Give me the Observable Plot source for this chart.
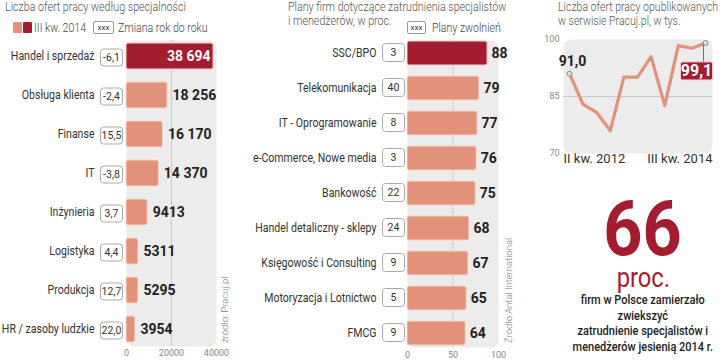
<!DOCTYPE html>
<html>
<head>
<meta charset="utf-8">
<script src="https://cdn.jsdelivr.net/npm/d3@7"></script>
<script src="https://cdn.jsdelivr.net/npm/@observablehq/plot@0.6"></script>
<style>
  body { margin: 0; background: #fff; }
  #root { position: relative; width: 720px; height: 362px; overflow: hidden; background: #fff; font-family: Roboto, "Noto Sans", sans-serif; }
  .abs { position: absolute; white-space: nowrap; }
  .nar { display: inline-block; transform-origin: 0 0; }
  .title { font-size: 12px; font-weight: 300; color: #555; line-height: 13.5px; }
  .leg { font-size: 12px; font-weight: 300; color: #444; line-height: 12px; }
  .xbox { border: 1px solid #999; border-radius: 2px; font-size: 8px; color: #333; text-align: center; line-height: 11px; background: #fff; }
  .src { font-size: 9.5px; font-weight: 300; color: #777; transform: rotate(-90deg); transform-origin: 0 0; line-height: 1; }
  .plot { position: absolute; top: 0; }
</style>
</head>
<body>
<div id="root"></div>
<script>
// ---------- data ----------
const categories1 = ["Handel i sprzedaż","Obsługa klienta","Finanse","IT","Inżynieria","Logistyka","Produkcja","HR / zasoby ludzkie"];
const offers2014 = [38694,18256,16170,14370,9413,5311,5295,3954];
const yoyChange = [-6.1,-2.4,15.5,-3.8,3.7,4.4,12.7,22.0];
const xTicks1 = [0,20000,40000];

const categories2 = ["SSC/BPO","Telekomunikacja","IT - Oprogramowanie","e-Commerce, Nowe media","Bankowość","Handel detaliczny - sklepy","Księgowość i Consulting","Motoryzacja i Lotnictwo","FMCG"];
const hiringPlans = [88,79,77,76,75,68,67,65,64];
const layoffPlans = [3,40,8,3,22,24,9,5,9];
const xTicks2 = [0,50,100];

const offersSeries = [91.0,82.9,80.8,76.0,90.1,90.1,95.5,82.6,98.4,97.7,99.1];
const quarterTicks = ["II kw. 2012","III kw. 2014"];
const yTicks3 = [70,85,100];

const DARK = "#a41c30", SALMON = "#e2927b", BG = "#ececec", GRID = "#c9c9c9";

// ---------- helpers ----------
const fmtPl = v => v >= 10000 ? d3.format(",")(v).replace(/,/g, " ") : String(v);
const fmtDec = v => d3.format(".1f")(v).replace(".", ",").replace("−", "-");
function roundBox(w, h, r) {
  return {
    draw(ctx) {
      const x0 = -w / 2, y0 = -h / 2;
      ctx.moveTo(x0 + r, y0);
      ctx.lineTo(x0 + w - r, y0);
      ctx.arcTo(x0 + w, y0, x0 + w, y0 + r, r);
      ctx.lineTo(x0 + w, y0 + h - r);
      ctx.arcTo(x0 + w, y0 + h, x0 + w - r, y0 + h, r);
      ctx.lineTo(x0 + r, y0 + h);
      ctx.arcTo(x0, y0 + h, x0, y0 + h - r, r);
      ctx.lineTo(x0, y0 + r);
      ctx.arcTo(x0, y0, x0 + r, y0, r);
      ctx.closePath();
    }
  };
}
// horizontally condense the glyphs of a text mark (style only)
function narrow(svg, label, s) {
  svg.querySelectorAll(`g[aria-label="${label}"] text`).forEach(t => {
    const tr = t.getAttribute("transform") || "";
    t.setAttribute("transform", tr + ` scale(${s},1)`);
  });
}

const root = document.getElementById("root");
function place(el, left) { el.classList.add("plot"); el.style.left = left + "px"; root.appendChild(el); }
function html(str) { root.insertAdjacentHTML("beforeend", str); }
const NUM = {fontWeight: "bold", fontSize: 14, fill: "#222", fontFamily: "Roboto, sans-serif"};

// ---------- panel 1 ----------
const data1 = categories1.map((c, i) => ({cat: c, v: offers2014[i], ch: yoyChange[i], first: i === 0}));
const p1 = Plot.plot({
  width: 240, height: 362,
  marginLeft: 126, marginRight: 24, marginTop: 40, marginBottom: 16,
  style: {fontFamily: "Roboto, sans-serif", fontSize: "12px", color: "#333", background: "transparent", overflow: "visible"},
  x: {domain: [0, 40000]},
  y: {domain: categories1, paddingInner: 0.33, paddingOuter: 0.08},
  marks: [
    Plot.frame({fill: BG, rx: 8}),
    Plot.ruleX([20000], {stroke: GRID}),
    Plot.barX(data1, {x: "v", y: "cat", fill: d => d.first ? DARK : SALMON, stroke: "#f6d3c8", strokeWidth: 1, rx: 2}),
    Plot.text(data1.filter(d => !d.first), {x: "v", y: "cat", text: d => fmtPl(d.v), dx: 5, textAnchor: "start", ...NUM, ariaLabel: "values"}),
    Plot.text(data1.filter(d => d.first), {x: "v", y: "cat", text: d => fmtPl(d.v), dx: -3, textAnchor: "end", ...NUM, fill: "#fff", ariaLabel: "values"}),
    Plot.dot(data1, {x: 0, y: "cat", dx: -15, dy: 1, symbol: roundBox(22, 17, 3), fill: "#fff", stroke: "#aaa", strokeWidth: 1}),
    Plot.text(data1, {x: 0, y: "cat", dx: -15, dy: 1, text: d => fmtDec(d.ch), fontSize: 10.5, fill: "#333", ariaLabel: "boxes"}),
    Plot.axisY({tickSize: 0, tickPadding: 32, label: null, fontSize: 12}),
    Plot.axisX({ticks: xTicks1, tickSize: 0, tickPadding: 3, tickFormat: d => String(d), label: null, fontSize: 9, color: "#888"})
  ]
});
narrow(p1, "values", 0.8);
narrow(p1, "boxes", 0.88);
narrow(p1, "y-axis tick label", 0.88);
place(p1, 0);

// ---------- panel 2 ----------
const data2 = categories2.map((c, i) => ({cat: c, v: hiringPlans[i], lay: layoffPlans[i], first: i === 0}));
const p2 = Plot.plot({
  width: 280, height: 362,
  marginLeft: 167, marginRight: 22, marginTop: 40, marginBottom: 15,
  style: {fontFamily: "Roboto, sans-serif", fontSize: "12px", color: "#333", background: "transparent", overflow: "visible"},
  x: {domain: [0, 100]},
  y: {domain: categories2, paddingInner: 0.31, paddingOuter: 0.04},
  marks: [
    Plot.frame({fill: BG, rx: 8}),
    Plot.ruleX([50], {stroke: GRID}),
    Plot.barX(data2, {x: "v", y: "cat", fill: d => d.first ? DARK : SALMON, stroke: "#f6d3c8", strokeWidth: 1, rx: 2}),
    Plot.text(data2, {x: "v", y: "cat", text: d => String(d.v), dx: 4, textAnchor: "start", ...NUM, ariaLabel: "values"}),
    Plot.dot(data2, {x: 0, y: "cat", dx: -14, dy: -1, symbol: roundBox(22, 18, 3), fill: "#fff", stroke: "#aaa", strokeWidth: 1}),
    Plot.text(data2, {x: 0, y: "cat", dx: -14, dy: -1, text: d => String(d.lay), fontSize: 10.5, fill: "#333", ariaLabel: "boxes"}),
    Plot.axisY({tickSize: 0, tickPadding: 31, label: null, fontSize: 12}),
    Plot.axisX({ticks: xTicks2, tickSize: 0, tickPadding: 4, tickFormat: d => String(d), label: null, fontSize: 9, color: "#888"})
  ]
});
narrow(p2, "values", 0.8);
narrow(p2, "boxes", 0.88);
narrow(p2, "y-axis tick label", 0.88);
place(p2, 240);

// ---------- panel 3 ----------
const series = offersSeries.map((v, i) => ({i, v}));
const last = series[series.length - 1], firstPt = series[0];
const p3 = Plot.plot({
  width: 210, height: 175,
  marginLeft: 53, marginRight: 8, marginTop: 39, marginBottom: 22,
  style: {fontFamily: "Roboto, sans-serif", fontSize: "12px", color: "#333", background: "transparent", overflow: "visible"},
  x: {domain: [0, series.length - 1], insetLeft: 6, insetRight: 7, axis: null},
  y: {domain: [70, 100]},
  marks: [
    Plot.frame({fill: BG, rx: 8}),
    Plot.ruleY([85], {stroke: GRID}),
    Plot.line(series, {x: "i", y: "v", stroke: SALMON, strokeWidth: 3.2}),
    Plot.ruleX([last], {x: "i", y1: "v", y2: d => d.v - 5.3, dx: -2, stroke: "#555", strokeWidth: 0.8}),
    Plot.dot([firstPt, last], {x: "i", y: "v", r: 2.5, fill: "#ddd", stroke: "#777", strokeWidth: 0.8}),
    Plot.text([firstPt], {x: "i", y: "v", text: d => fmtDec(d.v), dx: 3, dy: -12, ...NUM, ariaLabel: "values"}),
    Plot.dot([last], {x: "i", y: "v", dx: -9, dy: 28, symbol: roundBox(32, 18, 2), fill: DARK, stroke: "#f0c8c8", strokeWidth: 1}),
    Plot.text([last], {x: "i", y: "v", dx: -9, dy: 28, text: d => fmtDec(d.v), ...NUM, fontSize: 16, fill: "#fff", ariaLabel: "values"}),
    Plot.axisY({ticks: yTicks3, tickSize: 0, tickPadding: 4, label: null, fontSize: 9, color: "#888"}),
    Plot.text([quarterTicks[0]], {x: 0, frameAnchor: "bottom", dy: 9, dx: -6, textAnchor: "start", fontSize: 13, fill: "#333", ariaLabel: "qticks"}),
    Plot.text([quarterTicks[1]], {x: series.length - 1, frameAnchor: "bottom", dy: 9, dx: 7, textAnchor: "end", fontSize: 13, fill: "#333", ariaLabel: "qticks"})
  ]
});
narrow(p3, "values", 0.8);
narrow(p3, "qticks", 0.88);
place(p3, 510);

// ---------- text blocks ----------
const N = (s, txt) => `<span class="nar" style="transform:scaleX(${s})">${txt}</span>`;
html(`<div class="abs title" style="left:5px;top:1px">${N(0.89, "Liczba ofert pracy według specjalności")}</div>`);
html(`<div class="abs" style="left:13px;top:22px;width:9px;height:11px;background:${SALMON};border-radius:1px"></div>`);
html(`<div class="abs" style="left:23px;top:22px;width:9px;height:11px;background:${DARK};border-radius:1px"></div>`);
html(`<div class="abs leg" style="left:34px;top:22px">${N(0.88, "III kw. 2014")}</div>`);
html(`<div class="abs xbox" style="left:93px;top:21px;width:19px;height:11px">xxx</div>`);
html(`<div class="abs leg" style="left:118px;top:22px">${N(0.88, "Zmiana rok do roku")}</div>`);
html(`<div class="abs src" style="left:220px;top:343px">źródło: Pracuj.pl</div>`);

html(`<div class="abs title" style="left:288px;top:1px">${N(0.89, "Plany firm dotyczące zatrudnienia specjalistów<br>i menedżerów, w proc.")}</div>`);
html(`<div class="abs xbox" style="left:407px;top:21px;width:17px;height:11px">xxx</div>`);
html(`<div class="abs leg" style="left:432px;top:22px">${N(0.88, "Plany zwolnień")}</div>`);
html(`<div class="abs src" style="left:504px;top:343px">Źródło:Antal International</div>`);

html(`<div class="abs title" style="left:558px;top:1px">${N(0.88, "Liczba ofert pracy opublikowanych<br>w serwisie Pracuj.pl, w tys.")}</div>`);
html(`<div class="abs" style="left:560px;width:166px;top:198px;height:62px;text-align:center;color:${DARK};font-size:76px;line-height:62px;font-weight:700"><span style="display:inline-block;transform:scaleX(0.9)">66</span></div>`);
html(`<div class="abs" style="left:560px;width:166px;top:265px;text-align:center;color:${DARK};font-size:27px;line-height:26px;font-weight:400"><span style="display:inline-block;transform:scaleX(0.88)">proc.</span></div>`);
html(`<div class="abs" style="left:560px;width:166px;top:292px;text-align:center;color:#222;font-size:12.5px;line-height:15.5px;font-weight:500"><span style="display:inline-block;transform:scaleX(0.88)">firm w Polsce zamierzało<br>zwiekszyć<br>zatrudnienie specjalistów i<br>menedżerów jesienią 2014 r.</span></div>`);
</script>
</body>
</html>
